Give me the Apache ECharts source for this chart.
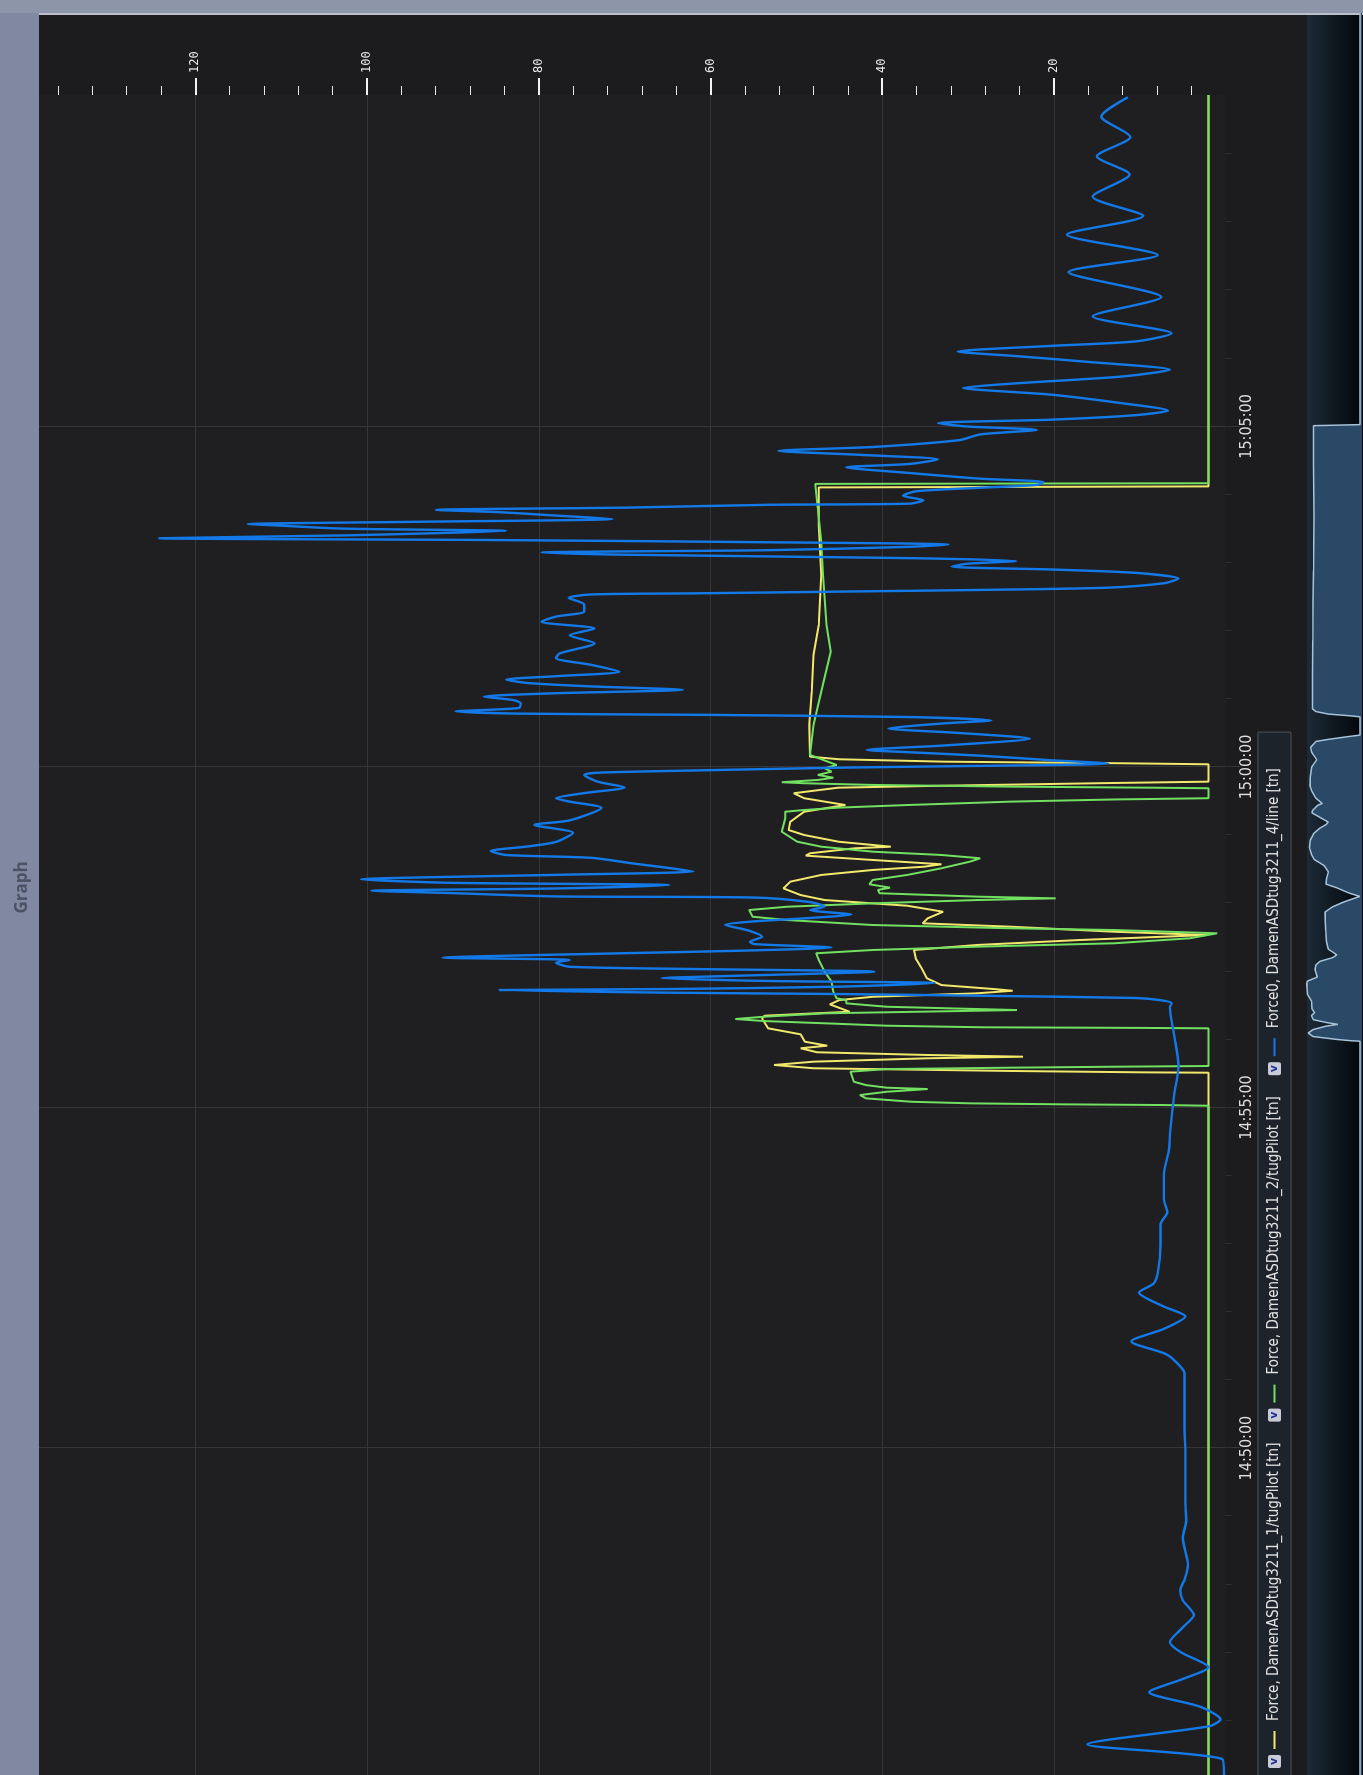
<!DOCTYPE html>
<html>
<head>
<meta charset="utf-8">
<title>Graph</title>
<script src="https://cdn.jsdelivr.net/npm/echarts@6/dist/echarts.min.js"></script>
<style>
  html, body { margin: 0; padding: 0; background: #8089a1; overflow: hidden; }
  /* the screenshot is turned a quarter turn: draw it upright, then rotate the box */
  #graph {
    position: absolute; left: 0; top: 0;
    width: 1775px; height: 1363px;
    transform-origin: 0 0;
    transform: translate(0, 1775px) rotate(-90deg);
  }
</style>
</head>
<body>
<div id="graph"></div>
<script>
// time is kept as seconds after 14:45:00
const baseSec = 14 * 3600 + 45 * 60;
const seriesNames = [
  'Force, DamenASDtug3211_1/tugPilot [tn]',
  'Force, DamenASDtug3211_2/tugPilot [tn]',
  'Force0, DamenASDtug3211_4/line [tn]'
];
const timeTicks = [300, 600, 900, 1200];
const forceTicks = [20, 40, 60, 80, 100, 120];

const yellowTime = [12, 630.7, 631, 632.2, 634.6, 637.5, 640.4, 643.4, 644.8, 646.3,
  648.7, 652.2, 654.5, 658, 664.5, 669.8, 678.6, 680.9, 684.4, 690.9,
  694.7, 697.6, 700.6, 702.9, 704.4, 707.9, 713.9, 722.7, 731.5, 738.8,
  743.2, 747.6, 752, 754.9, 759.3, 762.3, 766.7, 772.5, 777.8, 779.9,
  782.8, 787.2, 793.1, 799, 804.9, 809.3, 812.2, 814.3, 818.1, 821.9,
  824, 828.4, 829.8, 834.2, 840.1, 844.5, 851.8, 860.6, 866.5, 872.5,
  876.9, 881.8, 883.5, 885.7, 887.1, 902.4, 903.3, 904.7, 906.8, 909.1,
  910.6, 937, 966.4, 998.7, 1025.1, 1069.2, 1113.3, 1146.3, 1147.2, 1492];
const yellowForce = [2, 2, 9.5, 24.8, 48.0, 52.6, 48.0, 34.7, 23.6, 34.7,
  47.6, 49.5, 46.4, 49.0, 49.5, 53.3, 54.0, 53.7, 43.8, 46.1,
  45.0, 41.1, 29.0, 24.8, 27.0, 33.1, 34.8, 35.4, 36.1, 36.3,
  29.0, 17.0, 2.2, 13.0, 25.0, 35.3, 34.7, 32.9, 37.1, 41.1,
  46.7, 49.5, 51.5, 50.7, 47.1, 41.1, 35.1, 33.1, 41.1, 48.9,
  48.4, 43.2, 39.0, 45.1, 49.1, 50.9, 50.7, 49.1, 44.3, 49.1,
  50.3, 45.1, 33.1, 15.0, 2, 2, 12.1, 32.7, 45.0, 48.4,
  48.6, 48.5, 48.2, 48.0, 47.4, 47.1, 47.4, 47.4, 2, 2];

const greenTime = [12, 601.6, 602.2, 602.8, 603.7, 605.1, 608.1, 611, 613.9, 616.3,
  617.5, 619.8, 622.7, 631.6, 633.9, 635.1, 636, 636.6, 669.8, 670.2,
  670.7, 672.1, 674.2, 676.2, 678, 680, 683, 685.9, 688.8, 691.8,
  694.7, 696.2, 702, 710.9, 719.7, 728.5, 735.9, 738.8, 741.7, 744.7,
  749.1, 753.5, 756.4, 757.9, 760.8, 765.2, 768.1, 774, 776.9, 779.9,
  782.8, 784.3, 785.8, 788.8, 791.7, 793.7, 796.7, 800.5, 804.9, 810.8,
  816.6, 819.6, 822.5, 825.4, 829.8, 834.2, 843, 854.8, 860.6, 862.1,
  864.2, 866.5, 869.5, 871.4, 872.5, 881.3, 881.8, 882.7, 884.2, 885.7,
  886.6, 888.6, 890.6, 893, 895.9, 898.9, 901.8, 910.6, 937, 966.4,
  1001.6, 1025.1, 1069.2, 1098.5, 1128, 1149.4, 1150, 1492];
const greenForce = [2, 2, 7.2, 18.6, 29.7, 36.6, 41.9, 42.6, 39.5, 34.7,
  39.5, 41.9, 43.3, 43.7, 39.5, 25.3, 12.5, 2, 2, 11,
  28.3, 39.5, 46.6, 53.8, 57.1, 53.8, 46.6, 24.3, 39.5, 44.2,
  44.2, 45.3, 45.7, 45.9, 46.7, 47.3, 47.7, 41.1, 29.0, 13.0,
  4.2, 1.0, 13.0, 25.0, 41.1, 51.1, 55.1, 55.5, 51.1, 41.1,
  29.0, 19.8, 29.0, 40.3, 40.5, 39.1, 41.5, 41.1, 37.1, 33.1,
  29.8, 28.6, 33.1, 41.1, 47.1, 49.9, 51.7, 51.3, 51.3, 49.1,
  45.1, 37.1, 25.0, 13.0, 2, 2, 9.0, 25.0, 41.1, 49.1,
  51.7, 47.5, 45.7, 47.5, 45.9, 46.7, 45.3, 48.4, 48.0, 47.1,
  46.0, 46.5, 46.9, 47.1, 47.5, 47.8, 2, 2];

const blueTime = [12, 26, 39, 55, 61, 72, 85, 96, 107, 120,
  129, 142, 153, 166, 175, 184, 197, 221, 236, 252,
  298, 317, 366, 376, 383, 394, 405, 416, 425, 437,
  445, 455, 479, 497, 508, 519, 541, 563, 576, 611,
  637, 664, 688, 692, 694.7, 696.5, 698.5, 700, 701.2, 703.5,
  704.4, 706.5, 709.7, 711.5, 714, 716, 719.7, 722, 724, 727.6,
  730, 732, 736, 738, 741, 744, 746, 750.5, 756, 761,
  764, 767, 770, 774, 777, 781, 785, 786, 789, 791,
  793, 796, 798, 801, 805, 808, 811, 815, 820, 822.5,
  826, 830, 834, 842, 849, 853, 864, 869.5, 872.5, 877,
  882, 887, 893, 895, 897, 899.4, 901, 902, 903, 906,
  910, 913, 915, 919, 925, 930, 934, 938.5, 941, 944,
  946, 947, 949, 952, 956, 959, 962, 965, 968, 971,
  974, 977, 980, 984, 990, 996, 1000, 1009, 1016, 1022,
  1028, 1032.5, 1037, 1043, 1049, 1052, 1053, 1054.5, 1056, 1058,
  1062, 1066, 1071, 1074, 1076.5, 1079, 1081.5, 1084, 1087, 1089,
  1091, 1094, 1096, 1098, 1100, 1101.5, 1104, 1106, 1108, 1110,
  1113, 1114, 1116, 1118.5, 1121.5, 1124.5, 1126.5, 1128.5, 1131, 1132,
  1135, 1139, 1143, 1146, 1148.5, 1151, 1154, 1159, 1164, 1167,
  1171, 1175, 1178.5, 1182, 1188, 1193, 1197, 1200, 1203, 1206,
  1210, 1214, 1220.5, 1228, 1234, 1238, 1244, 1250, 1257, 1262,
  1266, 1271, 1275, 1282, 1297, 1314, 1336, 1351, 1369, 1385.5,
  1402.5, 1422, 1438, 1455, 1473, 1490];
const blueForce = [0.2, 0.4, 16.1, 1.9, 0.6, 2.9, 8.9, 5.2, 2.0, 5.2,
  6.5, 5.0, 3.7, 5.0, 5.3, 4.8, 4.4, 5.0, 4.6, 4.7,
  4.7, 4.8, 4.8, 5.8, 7.0, 11.0, 7.2, 4.7, 7.3, 10.1,
  8.4, 7.9, 7.6, 7.6, 6.8, 7.2, 7.2, 6.6, 6.5, 6.0,
  5.5, 6.0, 6.5, 6.3, 7.7, 10.5, 28.6, 45.1, 64.8, 84.6,
  64.8, 45.0, 33.9, 53.3, 65.7, 57.4, 40.9, 61.6, 76.4, 78.0,
  76.4, 91.2, 69.8, 57.4, 45.9, 54.9, 55.4, 54.0, 55.6, 58.3,
  54.9, 48.4, 43.6, 48.4, 46.7, 48.4, 54.9, 78.0, 90.4, 99.5,
  78.0, 64.8, 90.4, 100.7, 78.0, 62.0, 64.8, 69.0, 73.9, 83.8,
  85.6, 81.3, 78.0, 76.0, 80.5, 76.4, 72.7, 76.4, 78.0, 74.7,
  70.0, 73.1, 74.7, 73.1, 61.6, 45.0, 28.6, 17.9, 13.7, 20.4,
  28.6, 36.8, 41.8, 32.7, 22.8, 31.1, 39.3, 32.7, 27.3, 36.8,
  61.6, 82.1, 89.7, 82.3, 82.1, 83.0, 86.4, 78.0, 63.2, 73.9,
  81.3, 83.8, 78.0, 70.6, 73.9, 78.0, 77.6, 73.5, 76.4, 73.5,
  79.7, 78.0, 74.7, 74.7, 76.5, 73.9, 61.6, 45.0, 28.6, 13.7,
  7.1, 5.5, 10.4, 20.3, 31.9, 30.2, 24.4, 36.8, 69.8, 79.7,
  53.3, 36.8, 32.3, 53.3, 86.3, 124.2, 102.8, 92.0, 83.8, 102.8,
  111.0, 113.9, 94.5, 71.4, 78.0, 84.6, 92.0, 69.8, 53.3, 36.8,
  35.2, 37.6, 36.0, 28.6, 22.0, 21.2, 28.6, 36.8, 44.2, 36.8,
  33.5, 42.6, 52.1, 40.9, 31.0, 28.6, 22.0, 30.2, 33.5, 20.3,
  10.4, 6.7, 12.1, 20.3, 30.6, 24.4, 12.1, 6.5, 16.2, 24.4,
  31.2, 20.3, 10.4, 6.3, 15.5, 7.5, 18.3, 7.9, 18.5, 9.6,
  15.5, 11.2, 15.0, 11.1, 14.5, 11.4];

const colors = { yellow: '#f1e86c', green: '#72e060', blue: '#1479e8' };

// small ticks: every minute on the time axis, every 4 tn on the force axis
const minuteTicks = [];
for (let s = 60; s < 1492; s += 60) minuteTicks.push(s);
const forceMinor = [];
for (let f = 4; f < 138; f += 4) if (f % 20) forceMinor.push(f);

function clock(sec) {
  const t = Math.round(baseSec + sec);
  return [Math.floor(t / 3600), Math.floor(t % 3600 / 60), t % 60]
    .map(function(n) { return String(n).padStart(2, '0'); }).join(':');
}
function pairs(t, v) {
  return t.map(function(s, i) { return [s, v[i]]; });
}
function line(name, t, v, color, width, smooth) {
  return {
    type: 'line', name: name, data: pairs(t, v),
    xAxisIndex: 0, yAxisIndex: 0,
    symbol: 'none', showSymbol: false,
    smooth: smooth || false,
    lineStyle: { color: color, width: width },
    itemStyle: { color: color }
  };
}

const narrow = '"Liberation Sans Narrow", "DejaVu Sans Condensed", "Liberation Sans", sans-serif';
const gridColor = '#363638';

const chart = echarts.init(document.getElementById('graph'));
const option = {
  animation: false,
  backgroundColor: '#1c1c1e',
  title: {
    text: 'Graph', left: 'center', top: 9,
    textStyle: { color: '#4b5263', fontSize: 17, fontWeight: 'bold', fontFamily: '"Open Sans", sans-serif' }
  },
  graphic: [
    { type: 'rect', z: 0, shape: { x: 0, y: 0, width: 1775, height: 39 }, style: { fill: '#8089a1' } },
    { type: 'rect', z: 0, shape: { x: 1762, y: 0, width: 13, height: 1363 }, style: { fill: '#8d95a8' } },
    { type: 'rect', z: 0, shape: { x: 1760, y: 39, width: 2, height: 1324 }, style: { fill: '#b9c0cc' } },
    {
      type: 'rect', z: 0, shape: { x: 0, y: 1307, width: 1760, height: 56 },
      style: {
        fill: new echarts.graphic.LinearGradient(0, 0, 0, 1, [
          { offset: 0, color: '#1c2a37' },
          { offset: 1, color: '#020508' }
        ])
      }
    }
  ],
  legend: {
    data: seriesNames,
    left: -11, top: 1258,
    icon: 'none', itemWidth: 0, itemHeight: 14, itemGap: 16,
    padding: [9, 36, 9, 13],
    backgroundColor: '#1d232a', borderColor: '#4b525a', borderWidth: 1,
    selectedMode: false,
    formatter: function(name) {
      const key = ['ly', 'lg', 'lb'][seriesNames.indexOf(name)];
      return '{v|v}{s1|}{' + key + '|}{s2|}' + name;
    },
    textStyle: {
      color: '#e2e2e2', fontSize: 15, fontFamily: narrow,
      rich: {
        v: {
          width: 13, height: 13, lineHeight: 13, align: 'center', verticalAlign: 'middle',
          backgroundColor: '#c8ccd8', borderRadius: 2,
          color: '#22318f', fontSize: 11, fontWeight: 'bold', fontFamily: 'DejaVu Sans'
        },
        s1: { width: 6 },
        s2: { width: 10 },
        ly: { width: 18, height: 2, backgroundColor: colors.yellow },
        lg: { width: 18, height: 2, backgroundColor: colors.green },
        lb: { width: 18, height: 2, backgroundColor: colors.blue }
      }
    }
  },
  grid: [
    { left: 0, right: 95, top: 39, bottom: 137.3, show: true, backgroundColor: '#1f1f21', borderWidth: 0 },
    { left: 0, right: 13, top: 1300, bottom: 1 }
  ],
  xAxis: [
    {
      type: 'value', gridIndex: 0, min: 12, max: 1492, position: 'bottom',
      axisLine: { show: false },
      axisTick: { customValues: timeTicks, length: 14, lineStyle: { color: gridColor } },
      axisLabel: {
        customValues: timeTicks, formatter: clock, margin: 13,
        color: '#dedede', fontSize: 16, fontFamily: narrow
      },
      splitLine: { show: true, lineStyle: { color: gridColor } }
    },
    {
      type: 'value', gridIndex: 0, min: 12, max: 1492, position: 'bottom',
      axisLine: { show: false },
      axisTick: { customValues: minuteTicks, length: 6, lineStyle: { color: '#2e2e30' } },
      axisLabel: { show: false },
      splitLine: { show: false }
    },
    { type: 'value', gridIndex: 1, min: 16, max: 1492, show: false }
  ],
  yAxis: [
    {
      type: 'value', gridIndex: 0, min: 0, max: 138.2, position: 'right',
      axisLine: { show: false },
      axisTick: { customValues: forceTicks, length: 17, lineStyle: { color: '#f2f2f2', width: 2 } },
      axisLabel: {
        customValues: forceTicks, margin: 22,
        color: '#ececec', fontSize: 12, fontFamily: '"DejaVu Sans Mono", monospace'
      },
      splitLine: { show: true, lineStyle: { color: gridColor } }
    },
    {
      type: 'value', gridIndex: 0, min: 0, max: 138.2, position: 'right',
      axisLine: { show: false },
      axisTick: { customValues: forceMinor, length: 9, lineStyle: { color: '#e6e6e6', width: 1 } },
      axisLabel: { show: false },
      splitLine: { show: false }
    },
    { type: 'value', gridIndex: 1, min: 0, max: 60.7, show: false }
  ],
  series: [
    line(seriesNames[0], yellowTime, yellowForce, colors.yellow, 2),
    line(seriesNames[1], greenTime, greenForce, colors.green, 2),
    line(seriesNames[2], blueTime, blueForce, colors.blue, 2.4, 0.25),
    {
      // overview strip under the legend
      type: 'line', name: 'overview', data: pairs(yellowTime, yellowForce),
      xAxisIndex: 2, yAxisIndex: 2, symbol: 'none', silent: true,
      lineStyle: { color: '#a6c3da', width: 1.5 },
      areaStyle: { color: '#2a4967', opacity: 1 }
    }
  ]
};
chart.setOption(option);

window.onresize = function() {
  chart.resize();
};
</script>
</body>
</html>
